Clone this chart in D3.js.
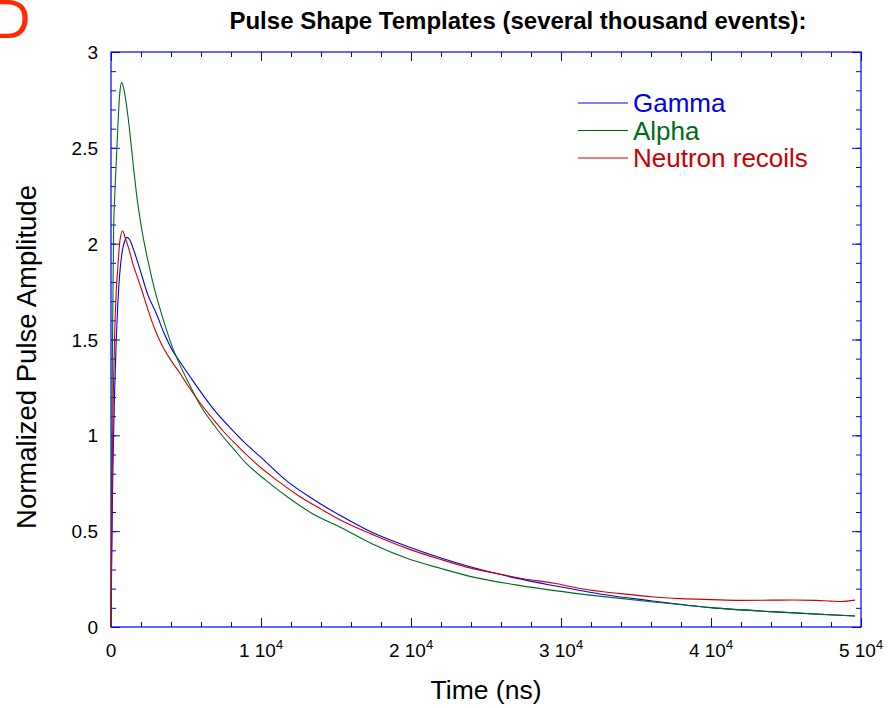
<!DOCTYPE html>
<html>
<head>
<meta charset="utf-8">
<script src="https://cdn.jsdelivr.net/npm/d3@7"></script>
<style>
  body { margin: 0; background: #fff; }
  svg { display: block; font-family: "Liberation Sans", Arial, sans-serif; }
</style>
</head>
<body>
<div class="vis-pulse"></div>
<script>
// time in ns, amplitude normalized
const gammaTime = [0, 40, 100, 170, 250, 350, 450, 600, 750, 900, 1070, 1250, 1500, 1940, 2470, 3000, 3500, 4010, 4630, 5500, 6900, 8000, 9000, 10000, 11650, 13500, 15320, 17500, 19770, 22000, 24000, 27000, 29570, 32700, 36000, 40000, 44000, 47000, 49600];
const gammaAmp = [0, 0.3, 0.7, 1.0, 1.25, 1.5, 1.68, 1.86, 1.96, 2.01, 2.033, 2.02, 1.97, 1.863, 1.73, 1.64, 1.54, 1.455, 1.38, 1.28, 1.13, 1.035, 0.955, 0.885, 0.766, 0.665, 0.58, 0.49, 0.42, 0.36, 0.313, 0.255, 0.215, 0.171, 0.137, 0.101, 0.08, 0.068, 0.057];

const alphaTime = [0, 30, 60, 100, 174, 250, 330, 450, 580, 710, 850, 1000, 1200, 1510, 1700, 2040, 2450, 2910, 3500, 4120, 4630, 5200, 6010, 6900, 7500, 8000, 9000, 10310, 12000, 13500, 15320, 17500, 19770, 22000, 24000, 27000, 29570, 32700, 36000, 40000, 44000, 47000, 49600];
const alphaAmp = [0, 0.5, 1.0, 1.5, 2.07, 2.25, 2.39, 2.6, 2.78, 2.84, 2.81, 2.74, 2.62, 2.39, 2.26, 2.08, 1.915, 1.76, 1.6, 1.455, 1.361, 1.27, 1.149, 1.05, 0.99, 0.945, 0.855, 0.766, 0.665, 0.588, 0.519, 0.43, 0.357, 0.305, 0.263, 0.22, 0.19, 0.16, 0.132, 0.101, 0.08, 0.067, 0.057];

const neutronTime = [0, 30, 80, 150, 250, 350, 440, 600, 775, 950, 1200, 1440, 1780, 2000, 2400, 2890, 3400, 4010, 4630, 5120, 5700, 6230, 6900, 7500, 8500, 9500, 10980, 12500, 14000, 15320, 17500, 19770, 22000, 24000, 26000, 27500, 29570, 31000, 32700, 34500, 36000, 38000, 40000, 42000, 44000, 45500, 47000, 48000, 48700, 49600];
const neutronAmp = [0, 0.3, 0.8, 1.2, 1.55, 1.75, 1.86, 2.02, 2.066, 2.03, 1.97, 1.9, 1.82, 1.77, 1.67, 1.56, 1.47, 1.39, 1.32, 1.26, 1.195, 1.14, 1.075, 1.02, 0.94, 0.865, 0.77, 0.685, 0.615, 0.557, 0.48, 0.409, 0.352, 0.307, 0.275, 0.252, 0.228, 0.205, 0.185, 0.17, 0.158, 0.148, 0.143, 0.139, 0.14, 0.141, 0.139, 0.135, 0.133, 0.14];

const seriesNames = ['Gamma', 'Alpha', 'Neutron recoils'];
const seriesColors = ['#0000ee', '#006a1c', '#cc0000'];

const xTickValues = [0, 10000, 20000, 30000, 40000, 50000];
const xTickLabels = ['0', '1 10^4', '2 10^4', '3 10^4', '4 10^4', '5 10^4'];
const yTickValues = [0, 0.5, 1, 1.5, 2, 2.5, 3];
const yTickLabels = ['0', '0.5', '1', '1.5', '2', '2.5', '3'];

const W = 896;
const H = 708;
const margin = { top: 52, right: 35, bottom: 81, left: 111 };
const width = W - margin.left - margin.right;
const height = H - margin.top - margin.bottom;

const svg = d3.select('.vis-pulse')
  .append('svg')
  .attr('width', W)
  .attr('height', H);

// panel letter, cut off at the top-left like the original
svg.append('text')
  .attr('x', -10)
  .attr('y', 38)
  .attr('font-size', 56)
  .attr('fill', '#ff2a00')
  .text('D');

svg.append('text')
  .attr('x', 518)
  .attr('y', 29)
  .attr('text-anchor', 'middle')
  .attr('font-size', 24)
  .attr('font-weight', 'bold')
  .text('Pulse Shape Templates (several thousand events):');

const g = svg.append('g')
  .attr('transform', `translate(${margin.left},${margin.top})`);

const x = d3.scaleLinear().domain([0, 50000]).range([0, width]);
const y = d3.scaleLinear().domain([0, 3]).range([height, 0]);

const frameColor = '#0000ff';
const xMinor = d3.range(0, 50001, 2000);
const yMinor = d3.range(0, 3.001, 0.1);

const styleAxis = (sel) => {
  sel.select('.domain').remove();
  sel.selectAll('line').attr('stroke', frameColor);
};

// inward ticks on all four sides
g.append('g').attr('transform', `translate(0,${height})`)
  .call(d3.axisBottom(x).tickValues(xMinor).tickSize(-5).tickFormat(''))
  .call(styleAxis);
g.append('g').attr('transform', `translate(0,${height})`)
  .call(d3.axisBottom(x).tickValues(xTickValues).tickSize(-9).tickFormat(''))
  .call(styleAxis);
g.append('g')
  .call(d3.axisTop(x).tickValues(xMinor).tickSize(-5).tickFormat(''))
  .call(styleAxis);
g.append('g')
  .call(d3.axisTop(x).tickValues(xTickValues).tickSize(-9).tickFormat(''))
  .call(styleAxis);
g.append('g')
  .call(d3.axisLeft(y).tickValues(yMinor).tickSize(-5).tickFormat(''))
  .call(styleAxis);
g.append('g')
  .call(d3.axisLeft(y).tickValues(yTickValues).tickSize(-9).tickFormat(''))
  .call(styleAxis);
g.append('g').attr('transform', `translate(${width},0)`)
  .call(d3.axisRight(y).tickValues(yMinor).tickSize(-5).tickFormat(''))
  .call(styleAxis);
g.append('g').attr('transform', `translate(${width},0)`)
  .call(d3.axisRight(y).tickValues(yTickValues).tickSize(-9).tickFormat(''))
  .call(styleAxis);

g.append('rect')
  .attr('width', width)
  .attr('height', height)
  .attr('fill', 'none')
  .attr('stroke', frameColor)
  .attr('stroke-width', 1.2);

// tick labels
const xl = g.append('g').selectAll('text')
  .data(xTickValues)
  .enter()
  .append('text')
  .attr('x', (d) => x(d))
  .attr('y', height + 30)
  .attr('text-anchor', 'middle')
  .attr('font-size', 19);
xl.each(function (d, i) {
  const parts = xTickLabels[i].split('^');
  const t = d3.select(this);
  t.append('tspan').text(parts[0]);
  if (parts[1]) {
    t.append('tspan').attr('dy', -8).attr('font-size', 13).text(parts[1]);
  }
});

g.append('g').selectAll('text')
  .data(yTickValues)
  .enter()
  .append('text')
  .attr('x', -13)
  .attr('y', (d) => y(d) + 7)
  .attr('text-anchor', 'end')
  .attr('font-size', 19)
  .text((d, i) => yTickLabels[i]);

svg.append('text')
  .attr('x', 486)
  .attr('y', 699)
  .attr('text-anchor', 'middle')
  .attr('font-size', 26.5)
  .text('Time (ns)');

svg.append('text')
  .attr('transform', 'translate(36,357) rotate(-90)')
  .attr('text-anchor', 'middle')
  .attr('font-size', 27.5)
  .text('Normalized Pulse Amplitude');

// curves
const series = [
  gammaTime.map((t, i) => [t, gammaAmp[i]]),
  alphaTime.map((t, i) => [t, alphaAmp[i]]),
  neutronTime.map((t, i) => [t, neutronAmp[i]]),
];

const line = d3.line()
  .x((d) => x(d[0]))
  .y((d) => y(d[1]))
  .curve(d3.curveMonotoneX);

g.selectAll('path.curve')
  .data(series)
  .enter()
  .append('path')
  .attr('class', 'curve')
  .attr('d', line)
  .attr('fill', 'none')
  .attr('stroke', (d, i) => seriesColors[i])
  .attr('stroke-width', 1.1);

// legend
const legend = svg.append('g').attr('transform', 'translate(578,103)');
const item = legend.selectAll('g')
  .data(seriesNames)
  .enter()
  .append('g')
  .attr('transform', (d, i) => `translate(0,${i * 27.5})`);
item.append('line')
  .attr('x1', 0)
  .attr('x2', 50)
  .attr('stroke', (d, i) => seriesColors[i])
  .attr('stroke-width', 1);
item.append('text')
  .attr('x', 55)
  .attr('y', 9)
  .attr('font-size', 26)
  .attr('fill', (d, i) => seriesColors[i])
  .text((d) => d);
</script>
</body>
</html>
